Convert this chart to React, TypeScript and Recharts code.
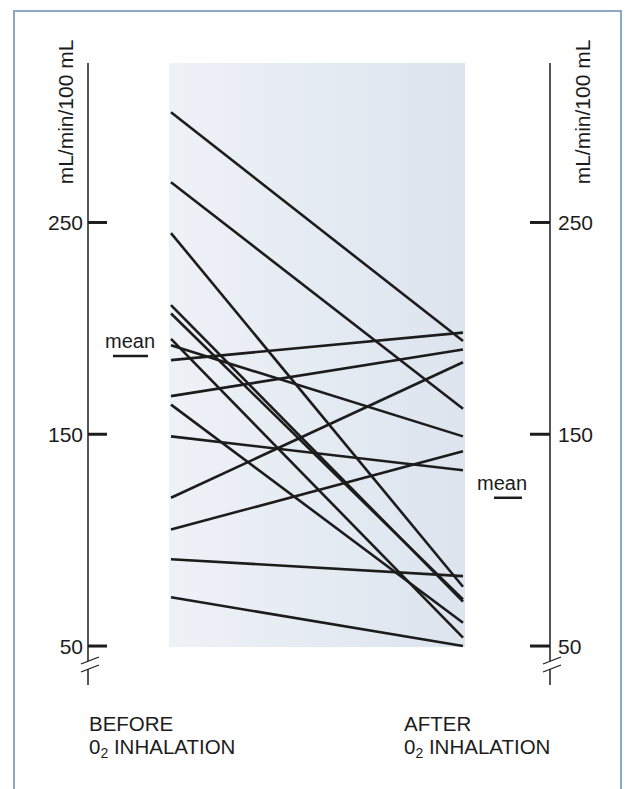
import React from "react";
import { LineChart, Line, XAxis, YAxis, ReferenceArea, ReferenceDot } from "recharts";

// blood flow per subject
const phases = ["before", "after"];
const beforeValues = [302, 269, 245, 211, 207, 195, 192, 185, 168, 164, 149, 120, 105, 91, 73];
const afterValues = [194, 162, 78, 71, 72, 54, 149, 198, 190, 61, 133, 184, 142, 83, 50];
const yTicks = [50, 150, 250];
const meanBefore = 187;
const meanAfter = 120;
const yDomain = [31.6, 325.3];
const shadeBottom = 49.5;

const data = phases.map((phase, i) => {
    const row: any = { phase };
    beforeValues.forEach((v, k) => {
        row["s" + k] = i === 0 ? v : afterValues[k];
    });
    return row;
});

const font = '"Liberation Sans", Arial, Helvetica, sans-serif';
const ink = "#1c1c1c";

const LeftTick = (props: any) => {
    const { x, y, payload } = props;
    return (
        <g>
            <line x1={x} x2={x + 19} y1={y} y2={y} stroke={ink} strokeWidth={3} />
            <text x={x - 5} y={y} dy="0.36em" textAnchor="end" fontSize={21} fontFamily={font} fill={ink}>
                {payload.value}
            </text>
        </g>
    );
};

const RightTick = (props: any) => {
    const { x, y, payload } = props;
    return (
        <g>
            <line x1={x - 20} x2={x} y1={y} y2={y} stroke={ink} strokeWidth={3} />
            <text x={x + 8} y={y} dy="0.36em" textAnchor="start" fontSize={21} fontFamily={font} fill={ink}>
                {payload.value}
            </text>
        </g>
    );
};

const MeanLeft = (props: any) => {
    const { cx, cy } = props;
    return (
        <g>
            <line x1={cx - 58} x2={cx - 23} y1={cy} y2={cy} stroke={ink} strokeWidth={2.5} />
            <text x={cx - 41} y={cy - 8} textAnchor="middle" fontSize={20} fontFamily={font} fill={ink}>
                mean
            </text>
        </g>
    );
};

const MeanRight = (props: any) => {
    const { cx, cy } = props;
    return (
        <g>
            <line x1={cx + 31} x2={cx + 59} y1={cy} y2={cy} stroke={ink} strokeWidth={2.5} />
            <text x={cx + 14} y={cy - 8} textAnchor="start" fontSize={20} fontFamily={font} fill={ink}>
                mean
            </text>
        </g>
    );
};

const Shade = (props: any) => {
    const { x, y, width, height } = props;
    return <rect x={x - 2} y={y} width={width + 4} height={height} fill="url(#shadeGrad)" />;
};

function BreakMark({ x }: { x: number }) {
    return (
        <g>
            <polygon points={`${x - 7},${664} ${x + 11},${657} ${x + 11},${665} ${x - 7},${672}`} fill="#fff" />
            <line x1={x - 7} y1={664} x2={x + 11} y2={657} stroke={ink} strokeWidth={1.3} />
            <line x1={x - 7} y1={672} x2={x + 11} y2={665} stroke={ink} strokeWidth={1.3} />
        </g>
    );
}

export default function App() {
    return (
        <div style={{ position: "absolute", top: 0, left: 0, width: 625, height: 789, background: "#fff" }}>
            <LineChart width={625} height={789} data={data} margin={{ top: 63, right: 0, bottom: 104, left: 0 }}>
                <defs>
                    <linearGradient id="shadeGrad" x1="0" y1="0" x2="1" y2="0">
                        <stop offset="0%" stopColor="#eef2f7" />
                        <stop offset="100%" stopColor="#dde4ee" />
                    </linearGradient>
                </defs>
                <XAxis
                    dataKey="phase"
                    height={0}
                    tick={false}
                    tickLine={false}
                    padding={{ left: 83, right: 87 }}
                    stroke={ink}
                    strokeWidth={1.5}
                />
                <YAxis
                    yAxisId="left"
                    width={88}
                    domain={yDomain}
                    ticks={yTicks}
                    type="number"
                    allowDataOverflow
                    tickSize={0}
                    tickMargin={0}
                    tickLine={false}
                    tick={<LeftTick />}
                    stroke={ink}
                    strokeWidth={1.5}
                />
                <YAxis
                    yAxisId="right"
                    orientation="right"
                    width={75}
                    domain={yDomain}
                    ticks={yTicks}
                    type="number"
                    allowDataOverflow
                    tickSize={0}
                    tickMargin={0}
                    tickLine={false}
                    tick={<RightTick />}
                    stroke={ink}
                    strokeWidth={1.5}
                />
                <ReferenceArea
                    yAxisId="left"
                    x1="before"
                    x2="after"
                    y1={shadeBottom}
                    y2={yDomain[1]}
                    shape={<Shade />}
                />
                {beforeValues.map((_, k) => (
                    <Line
                        key={k}
                        yAxisId="left"
                        dataKey={"s" + k}
                        stroke={ink}
                        strokeWidth={2.6}
                        dot={false}
                        activeDot={false}
                        isAnimationActive={false}
                    />
                ))}
                <ReferenceDot yAxisId="left" x="before" y={meanBefore} shape={<MeanLeft />} />
                <ReferenceDot yAxisId="left" x="after" y={meanAfter} shape={<MeanRight />} />
            </LineChart>
            <svg
                width={625}
                height={789}
                style={{ position: "absolute", top: 0, left: 0, pointerEvents: "none" }}
            >
                <path d="M 14 789 V 11 H 621 V 789" fill="none" stroke="#8da7c6" strokeWidth={2} />
                <BreakMark x={88} />
                <BreakMark x={550} />
                <text
                    transform="translate(73,112) rotate(-90)"
                    textAnchor="middle"
                    fontSize={21}
                    fontFamily={font}
                    fill={ink}
                >
                    mL/min/100 mL
                </text>
                <text
                    transform="translate(590,112) rotate(-90)"
                    textAnchor="middle"
                    fontSize={21}
                    fontFamily={font}
                    fill={ink}
                >
                    mL/min/100 mL
                </text>
                <g fontSize={20.5} fontFamily={font} fill={ink}>
                    <text x={89} y={731}>BEFORE</text>
                    <text x={89} y={754}>
                        0<tspan fontSize={14} dy={4}>2</tspan>
                        <tspan dy={-4}> INHALATION</tspan>
                    </text>
                    <text x={404} y={731}>AFTER</text>
                    <text x={404} y={754}>
                        0<tspan fontSize={14} dy={4}>2</tspan>
                        <tspan dy={-4}> INHALATION</tspan>
                    </text>
                </g>
            </svg>
        </div>
    );
}
